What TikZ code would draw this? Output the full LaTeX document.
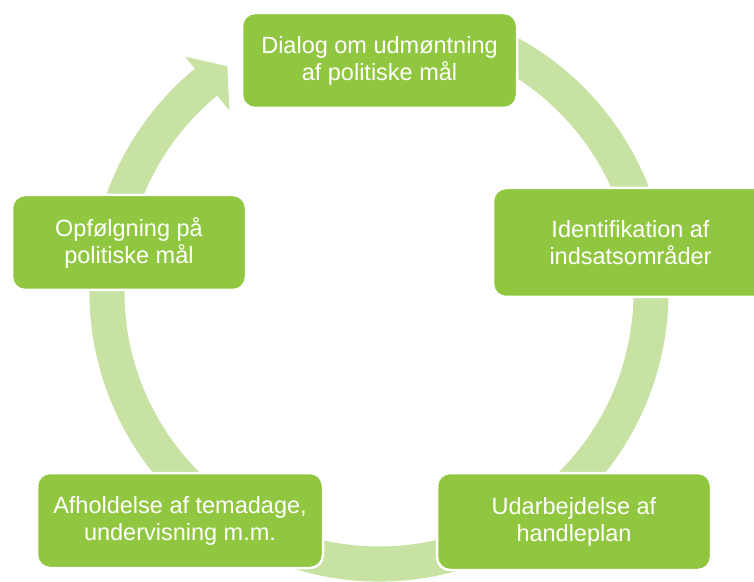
\documentclass[tikz,border=0pt]{standalone}
\usepackage{fontspec}
\setmainfont{Liberation Sans}
\definecolor{boxgreen}{RGB}{145,199,64}
\definecolor{ringgreen}{RGB}{200,226,163}
\tikzset{
  cyclebox/.style={draw=white, line width=2.5pt, fill=boxgreen, rounded corners=13pt,
    text=white, align=center, inner sep=0pt,
    font=\fontsize{23.5}{27}\selectfont},
  ringband/.style={fill=ringgreen}
}
\begin{document}
\begin{tikzpicture}[x=1pt,y=1pt]
\useasboundingbox (0,0) rectangle (754,581);
\clip (0,0) rectangle (754,581);
% circular arrow ring
\begin{scope}[shift={(379,289)}]
  \fill[ringband] (75:289.5) arc[start angle=75, end angle=-230.5, radius=289.5]
    -- (-230.5:305) -- (-236.1:272) -- (-230.5:235) -- (-230.5:254.5)
    arc[start angle=-230.5, end angle=75, radius=254.5] -- cycle;
\end{scope}
% boxes
\node[cyclebox, minimum width=275pt, minimum height=95pt] (top) at (379.5,520.5)
  {Dialog om udmøntning\\af politiske mål};
\node[cyclebox, minimum width=275pt, minimum height=109pt] (right) at (630.5,338.5)
  {Identifikation af\\indsatsområder};
\node[cyclebox, minimum width=274pt, minimum height=97pt] (botright) at (574,59.5)
  {Udarbejdelse af\\handleplan};
\node[cyclebox, minimum width=286pt, minimum height=95pt] (botleft) at (180,60.5)
  {Afholdelse af temadage,\\undervisning m.m.};
\node[cyclebox, minimum width=234pt, minimum height=95pt] (left) at (129,338.5)
  {Opfølgning på\\politiske mål};
\end{tikzpicture}
\end{document}
